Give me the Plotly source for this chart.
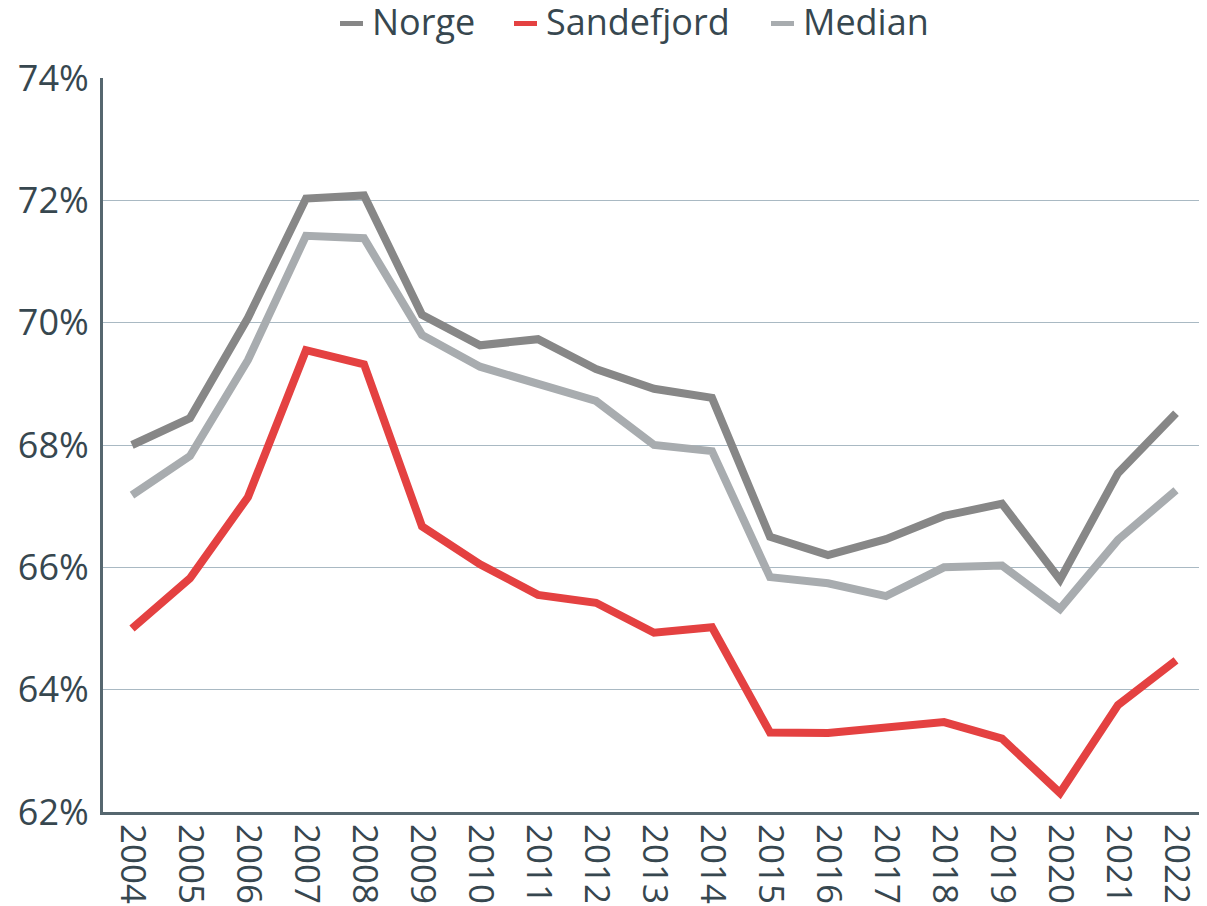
import plotly.graph_objects as go

years = [str(y) for y in range(2004, 2023)]
norge = [68.0, 68.44, 70.08, 72.03, 72.08, 70.13, 69.63, 69.73, 69.24, 68.92, 68.77,
         66.5, 66.2, 66.46, 66.84, 67.04, 65.8, 67.54, 68.52]
sandefjord = [65.0, 65.82, 67.15, 69.55, 69.32, 66.67, 66.05, 65.55, 65.42, 64.93, 65.02,
              63.3, 63.29, 63.37, 63.47, 63.2, 62.31, 63.75, 64.48]
median = [67.18, 67.82, 69.39, 71.42, 71.38, 69.8, 69.28, 69.0, 68.72, 68.0, 67.9,
          65.84, 65.74, 65.53, 66.0, 66.03, 65.32, 66.45, 67.26]
y_ticks = [62, 64, 66, 68, 70, 72, 74]

series_names = ["Norge", "Sandefjord", "Median"]
series_colors = ["#878787", "#e44141", "#a8acaf"]
series_values = [norge, sandefjord, median]

# page offset of the plotly div inside the html body (default body margin)
OFF = 8
W, H = 1207, 906
L, R, T, B = 103 - OFF, W - (1205 - OFF), 78 - OFF, H - (812 - OFF)
PW, PH = W - L - R, H - T - B


def px_x(sx):
    return (sx - OFF - L) / PW


def px_y(sy):
    return (H - B - (sy - OFF)) / PH


fig = go.Figure()
for name, vals, col in zip(series_names, series_values, series_colors):
    fig.add_trace(go.Scatter(x=years, y=[v / 100 for v in vals], name=name, mode="lines",
                             line=dict(color=col, width=8), showlegend=False))

txt = "#37474f"

# custom legend (short dash + label), positioned like the reference
legend_dash_left = [340, 514, 771]
for name, col, dx in zip(series_names, series_colors, legend_dash_left):
    fig.add_shape(type="line", xref="paper", yref="paper",
                  x0=px_x(dx), x1=px_x(dx + 23), y0=px_y(23.5), y1=px_y(23.5),
                  line=dict(color=col, width=5))
    fig.add_annotation(text=name, xref="paper", yref="paper", x=px_x(dx + 31), y=px_y(21.5),
                       xanchor="left", yanchor="middle", showarrow=False, borderpad=0,
                       font=dict(size=36, color=txt, family="Open Sans"))

fig.update_layout(
    width=W, height=H,
    margin=dict(l=L, r=R, t=T, b=B),
    paper_bgcolor="white", plot_bgcolor="white",
    font=dict(family="Open Sans", color=txt, size=35),
    showlegend=False,
    xaxis=dict(type="category", range=[-0.5, 18.5], tickangle=90,
               tickfont=dict(size=35, color=txt), showgrid=False,
               showline=True, linecolor="#56676f", linewidth=3, ticks="",
               automargin=False, ticklabelstandoff=2),
    yaxis=dict(range=[0.62, 0.74], tickvals=[t / 100 for t in y_ticks],
               ticktext=[f"{t}%" for t in y_ticks], tickfont=dict(size=36, color=txt),
               showgrid=True, gridcolor="#a9b9c3", gridwidth=1.3,
               showline=True, linecolor="#56676f", linewidth=3, ticks="",
               zeroline=False, automargin=False, ticklabelstandoff=4),
)
fig.write_html("out.html")
